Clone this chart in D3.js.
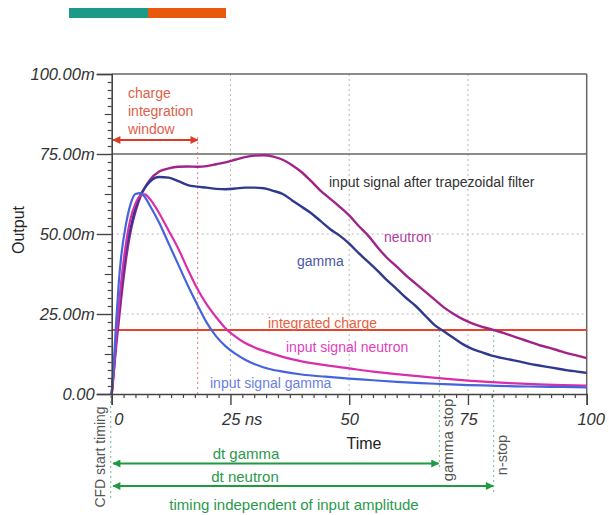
<!DOCTYPE html>
<html><head><meta charset="utf-8">
<script src="https://cdn.jsdelivr.net/npm/d3@7"></script>
<style>
html,body{margin:0;padding:0;background:#fff;}
svg{display:block;font-family:"Liberation Sans",Arial,sans-serif;}
</style></head>
<body><svg id="c" width="609" height="515"></svg>
<script>
// ---- data ----
const yTicks = [0, 25, 50, 75, 100];
const yTickLabels = ["0.00", "25.00m", "50.00m", "75.00m", "100.00m"];
const xTicks = [0, 25, 50, 75, 100];
const xTickLabels = ["0", "25 ns", "50", "75", "100"];

const tInGamma = [0,0.5,1,1.5,2,3,4,5,6,7,8,10,12,14,16,18,20,22,24,26,28,30,33,36,40,45,50,55,60,65,70,75,80,85,90,95,100];
const vInGamma = [0,11,24,35,43,53,59.5,62.5,62.8,61.5,59,53.5,47,40.5,34,28,22.3,18,14.9,12.6,10.8,9.4,7.9,7,6.1,5.4,4.8,4.3,3.8,3.4,3.1,2.8,2.6,2.4,2.3,2.2,2.1];

const tInNeutron = [0,0.5,1,2,3,4,5,6,7,8,10,12,14,16,18,20,22,24,26,28,30,33,36,40,45,50,55,60,65,70,75,80,85,90,95,100];
const vInNeutron = [0,8,18,35,47,55,59.5,62,62.4,61,56.5,51,45.5,39,33,28,24,20.5,18,16,14.6,13,11.6,10.2,9,8,7,6.2,5.5,4.8,4.2,3.7,3.3,3,2.8,2.6];

const tFilt = [0,1,2,3,4,5,6,7,8,10,12,14,16,18,20,22,24,26,28,30,32,34,36,38,40,42,44,46,48,50,52,54,56,58,60,62,64,66,68,70,72,74,76,78,80,82,84,86,88,90,92,94,96,98,100];
const vFiltGamma = [0,18,33,45,52,58,62,64.5,66.3,67.8,67.6,66.5,65.3,64.8,64.5,64.1,64,64.2,64.5,64.5,64.3,63.5,62.5,60.5,58.5,56.5,54,51.5,49.5,47,44,41.3,38.5,35.5,32.8,30,27.5,24.5,21.5,19.5,17.5,15.5,14,13,12,11.3,10.7,10.1,9.4,8.9,8.4,7.9,7.4,7,6.6];
const vFiltNeutron = [0,16,30,42,51,57,61.5,64.5,66.8,69.5,70.5,71,71.1,71,71.2,71.8,72.4,73.2,74,74.5,74.6,74.2,73.2,71.5,69.3,66.5,63.5,61,58.5,55.8,52.5,49.5,45.8,42.5,39.8,37,34.5,32,29.5,27,25,23.3,22,21,20.2,19.3,18.3,17.3,16.3,15.3,14.5,13.6,12.7,12,11.2];

const integratedCharge = 20;   // m
const chargeWindowEnd = 18.1;  // ns
const gammaStop = 69;          // ns
const nStop = 80.4;            // ns

// ---- layout ----
const svg = d3.select("#c");
const x = d3.scaleLinear().domain([0,100]).range([111.7,586.7]);
const y = d3.scaleLinear().domain([0,100]).range([394,74]);

// top colour bar
svg.append("rect").attr("x",69).attr("y",8).attr("width",79).attr("height",10).attr("fill","#1b9a88");
svg.append("rect").attr("x",148).attr("y",8).attr("width",78).attr("height",10).attr("fill","#e8590c");

// grid
const grid = svg.append("g");
[25,50,75].forEach(v=>{
  grid.append("line").attr("x1",x(v)).attr("x2",x(v)).attr("y1",y(100)).attr("y2",y(0))
    .attr("stroke","#b8b8b8").attr("stroke-width",1).attr("stroke-dasharray","2,3");
});
[25,50].forEach(v=>{
  grid.append("line").attr("x1",x(0)).attr("x2",x(100)).attr("y1",y(v)).attr("y2",y(v))
    .attr("stroke","#b8b8b8").attr("stroke-width",1).attr("stroke-dasharray","2,3");
});
// frame: top, right, 75m line
grid.append("line").attr("x1",x(0)).attr("x2",x(100)).attr("y1",y(100)).attr("y2",y(100)).attr("stroke","#666").attr("stroke-width",1.5);
grid.append("line").attr("x1",x(100)).attr("x2",x(100)).attr("y1",y(100)).attr("y2",y(0)).attr("stroke","#666").attr("stroke-width",1.5);
grid.append("line").attr("x1",x(0)).attr("x2",x(100)).attr("y1",y(75)).attr("y2",y(75)).attr("stroke","#666").attr("stroke-width",1.3);

// dotted annotation lines
svg.append("line").attr("x1",x(chargeWindowEnd)).attr("x2",x(chargeWindowEnd)).attr("y1",y(80.3)).attr("y2",y(0))
  .attr("stroke","#e87878").attr("stroke-width",1).attr("stroke-dasharray","2,3");
const gcol = "#8cc4a4";
svg.append("line").attr("x1",x(0)-1).attr("x2",x(0)-1).attr("y1",y(0)+2).attr("y2",500)
  .attr("stroke",gcol).attr("stroke-width",1.2).attr("stroke-dasharray","2,3");
svg.append("line").attr("x1",x(gammaStop)).attr("x2",x(gammaStop)).attr("y1",y(integratedCharge)).attr("y2",470)
  .attr("stroke",gcol).attr("stroke-width",1.2).attr("stroke-dasharray","2,3");
svg.append("line").attr("x1",x(nStop)).attr("x2",x(nStop)).attr("y1",y(integratedCharge)).attr("y2",492)
  .attr("stroke",gcol).attr("stroke-width",1.2).attr("stroke-dasharray","2,3");

// integrated charge line
svg.append("line").attr("x1",x(0)).attr("x2",x(100)).attr("y1",y(integratedCharge)).attr("y2",y(integratedCharge))
  .attr("stroke","#e8412c").attr("stroke-width",1.8);

// curves
const line = (ts)=>d3.line().x((d,i)=>x(ts[i])).y(d=>y(d)).curve(d3.curveMonotoneX);
const series = [
  {t:tFilt, v:vFiltNeutron, c:"#a1238a", w:2.4},
  {t:tFilt, v:vFiltGamma, c:"#2f3a8e", w:2.4},
  {t:tInNeutron, v:vInNeutron, c:"#d92eaa", w:2.2},
  {t:tInGamma, v:vInGamma, c:"#4564dc", w:2.2},
];
series.forEach(s=>{
  svg.append("path").attr("d",line(s.t)(s.v)).attr("fill","none").attr("stroke",s.c)
    .attr("stroke-width",s.w).attr("stroke-linejoin","round");
});

// axes
const axCol = "#444";
const yAxis = d3.axisLeft(y).tickValues(yTicks).tickSize(15).tickPadding(2)
  .tickFormat((d,i)=>yTickLabels[i]);
const gy = svg.append("g").attr("transform",`translate(${x(0)},0)`).call(yAxis);
gy.select(".domain").attr("stroke",axCol).attr("stroke-width",1.6);
gy.selectAll(".tick line").attr("stroke",axCol).attr("stroke-width",1.4);
gy.selectAll("text").attr("font-size",16.5).attr("font-style","italic").attr("fill","#333")
  .attr("font-family","'Liberation Sans',Arial,sans-serif");

const yMinor = d3.range(0,100.01,2.5).filter(v=>v%25!==0);
const gym = svg.append("g").attr("transform",`translate(${x(0)},0)`)
  .call(d3.axisLeft(y).tickValues(yMinor).tickSize(0).tickFormat(""));
gym.select(".domain").remove();
gym.selectAll(".tick line").attr("x2",d=> d%12.5===0 ? -7 : -4).attr("stroke",axCol).attr("stroke-width",1.2);

const xAxis = d3.axisBottom(x).tickValues(xTicks).tickSize(11).tickPadding(3)
  .tickFormat((d,i)=>xTickLabels[i]);
const gx = svg.append("g").attr("transform",`translate(0,${y(0)})`).call(xAxis);
gx.select(".domain").attr("stroke",axCol).attr("stroke-width",1.6);
gx.selectAll(".tick line").attr("stroke",axCol).attr("stroke-width",1.4);
gx.selectAll("text").attr("font-size",16.5).attr("font-style","italic").attr("fill","#333")
  .attr("font-family","'Liberation Sans',Arial,sans-serif").attr("y",31).attr("dy",0);
gx.selectAll(".tick text").each(function(d){
  const t = d3.select(this);
  if (d===0) t.attr("text-anchor","start").attr("dx",2);
  if (d===25) t.attr("text-anchor","start").attr("dx",-9);
  if (d===100) t.attr("dx",4);
});
const xMinor = d3.range(0,100.01,2.5).filter(v=>v%25!==0);
const gxm = svg.append("g").attr("transform",`translate(0,${y(0)})`)
  .call(d3.axisBottom(x).tickValues(xMinor).tickSize(4).tickFormat(""));
gxm.select(".domain").remove();
gxm.selectAll(".tick line").attr("stroke",axCol).attr("stroke-width",1.2);

// axis titles
svg.append("text").attr("x",364).attr("y",449).attr("text-anchor","middle").attr("font-size",16).attr("fill","#222").text("Time");
svg.append("text").attr("transform","translate(24,230) rotate(-90)").attr("text-anchor","middle")
  .attr("font-size",16).attr("fill","#222").text("Output");

// arrow markers
const defs = svg.append("defs");
function marker(id,col){
  const m = defs.append("marker").attr("id",id).attr("viewBox","0 0 10 10").attr("refX",9).attr("refY",5)
    .attr("markerWidth",9).attr("markerHeight",8).attr("markerUnits","userSpaceOnUse").attr("orient","auto-start-reverse");
  m.append("path").attr("d","M0,0 L10,5 L0,10 Z").attr("fill",col);
}
marker("ar","#dd3a28");
marker("ag","#1f9a40");

// charge integration window
svg.append("line").attr("x1",x(0)+1.5).attr("x2",x(chargeWindowEnd)).attr("y1",140).attr("y2",140)
  .attr("stroke","#dd3a28").attr("stroke-width",2).attr("marker-start","url(#ar)").attr("marker-end","url(#ar)");
const cw = svg.append("text").attr("font-size",14).attr("fill","#e0604c");
["charge","integration","window"].forEach((s,i)=>cw.append("tspan").attr("x",128).attr("y",98+i*18).text(s));

// green arrows
svg.append("line").attr("x1",x(0)+1.5).attr("x2",x(gammaStop)-1).attr("y1",463.5).attr("y2",463.5)
  .attr("stroke","#1f9a40").attr("stroke-width",2).attr("marker-start","url(#ag)").attr("marker-end","url(#ag)");
svg.append("line").attr("x1",x(0)+1.5).attr("x2",x(nStop)-0.5).attr("y1",486).attr("y2",486)
  .attr("stroke","#1f9a40").attr("stroke-width",2).attr("marker-start","url(#ag)").attr("marker-end","url(#ag)");
svg.append("text").attr("x",246).attr("y",459).attr("text-anchor","middle").attr("font-size",15).attr("fill","#2a9a4c").text("dt gamma");
svg.append("text").attr("x",245).attr("y",482).attr("text-anchor","middle").attr("font-size",15).attr("fill","#2a9a4c").text("dt neutron");
svg.append("text").attr("x",294).attr("y",510).attr("text-anchor","middle").attr("font-size",15).attr("fill","#2a9a4c").text("timing independent of input amplitude");

// vertical labels
function vtext(cx,cy,size,txt){
  svg.append("text").attr("transform",`translate(${cx},${cy}) rotate(-90)`).attr("text-anchor","middle")
    .attr("dy","0.35em").attr("font-size",size).attr("fill","#555").text(txt);
}
vtext(100,457,14,"CFD start timing");
vtext(448,440,15,"gamma stop");
vtext(502,455,14.5,"n-stop");

// curve labels
const labels = [
  {x:329, y:186.5, c:"#333", s:"input signal after trapezoidal filter"},
  {x:384, y:242, c:"#b040a0", s:"neutron"},
  {x:297, y:266, c:"#4a58a4", s:"gamma"},
  {x:268, y:327.5, c:"#e8603c", s:"integrated charge"},
  {x:286, y:352, c:"#e040c0", s:"input signal neutron"},
  {x:210, y:388, c:"#6a80e2", s:"input signal gamma"},
];
labels.forEach(l=>svg.append("text").attr("x",l.x).attr("y",l.y).attr("font-size",14).attr("fill",l.c).text(l.s));
</script></body></html>
